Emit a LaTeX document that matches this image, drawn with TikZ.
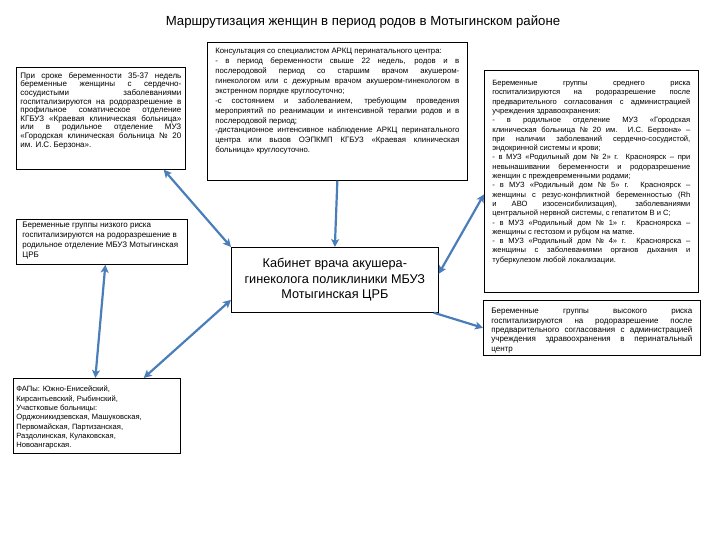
\documentclass[tikz,border=0pt]{standalone}
\usepackage{fontspec}
\setmainfont{Liberation Sans}
\usetikzlibrary{arrows.meta,calc}
\definecolor{ink}{HTML}{000000}
\definecolor{arrowblue}{HTML}{4A7EBB}
\hyphenpenalty=10000
\exhyphenpenalty=10000
\tolerance=10000
\tikzset{
  infobox/.style={
    draw=ink,
    line width=0.7pt,
    fill=white,
    anchor=north west,
    inner xsep=4pt,
    inner ysep=5pt,
    font=\fontsize{8}{9.3}\selectfont
  },
  centerbox/.style={
    infobox,
    align=center,
    inner sep=0pt,
    minimum width=207pt,
    minimum height=65pt,
    font=\fontsize{12.7}{15.5}\selectfont
  },
  title/.style={
    font=\fontsize{13.2}{15}\selectfont,
    text=ink
  },
  link/.style={
    draw=arrowblue,
    line width=2.2pt,
    -{Stealth[length=8pt,width=8pt,inset=2pt]}
  },
  twoway/.style={
    link,
    {Stealth[length=8pt,width=8pt,inset=2pt]}-{Stealth[length=8pt,width=8pt,inset=2pt]}
  }
}

\begin{document}
\begin{tikzpicture}[x=1pt,y=-1pt]
  \useasboundingbox (0,0) rectangle (720,540);

  % ============================================================
  % Title
  % ============================================================
  \node[title] (hdr) at (363,22)
    {Маршрутизация женщин в период родов в Мотыгинском районе};

  % ============================================================
  % Left column
  % ============================================================
  \node[infobox, font=\fontsize{8}{8.6}\selectfont] (cardio) at (16,67)
    {\parbox[t][92pt][t]{161pt}{При сроке беременности 35-37 недель\linebreak
     беременные женщины с сердечно-\linebreak
     сосудистыми заболеваниями\linebreak
     госпитализируются на родоразрешение в\linebreak
     профильное соматическое отделение\linebreak
     КГБУЗ «Краевая клиническая больница»\linebreak
     или в родильное отделение МУЗ\linebreak
     «Городская клиническая больница № 20\linebreak
     им. И.С. Берзона».}};

  \node[infobox, inner xsep=6pt, inner ysep=3pt,
        font=\fontsize{8}{10}\selectfont] (lowrisk) at (16,219)
    {\parbox[t][39pt][t]{159pt}{\raggedright
     Беременные группы низкого риска\\
     госпитализируются на родоразрешение в\\
     родильное отделение МБУЗ Мотыгинская\\
     ЦРБ}};

  \node[infobox, inner xsep=3pt, inner ysep=8pt,
        font=\fontsize{7.6}{9.3}\selectfont] (fap) at (13,378)
    {\parbox[t][59pt][t]{161pt}{\raggedright
     ФАПы: Южно-Енисейский,\\
     Кирсантьевский, Рыбинский,\\
     Участковые больницы:\\
     Орджоникидзевская, Машуковская,\\
     Первомайская, Партизанская,\\
     Раздолинская, Кулаковская,\\
     Новоангарская.}};

  % ============================================================
  % Centre column
  % ============================================================
  \node[infobox, inner xsep=8pt, inner ysep=6pt,
        font=\fontsize{7.8}{9.9}\selectfont] (consult) at (207,42)
    {\parbox[t][126pt][t]{244pt}{Консультация со специалистом АРКЦ перинатального центра:\par
     - в период беременности свыше 22 недель, родов и в\linebreak
     послеродовой период со старшим врачом акушером-\linebreak
     гинекологом или с дежурным врачом акушером-гинекологом в\linebreak
     экстренном порядке круглосуточно;\par
     -с состоянием и заболеванием, требующим проведения\linebreak
     мероприятий по реанимации и интенсивной терапии родов и в\linebreak
     послеродовой период;\par
     -дистанционное интенсивное наблюдение АРКЦ перинатального\linebreak
     центра или вызов ОЭПКМП КГБУЗ «Краевая клиническая\linebreak
     больница» круглосуточно.}};

  \node[centerbox] (cabinet) at (231,247)
    {Кабинет врача акушера-\\
     гинеколога поликлиники МБУЗ\\
     Мотыгинская ЦРБ};

  % ============================================================
  % Right column
  % ============================================================
  \node[infobox, inner xsep=8pt, inner ysep=10pt,
        font=\fontsize{7.6}{9.3}\selectfont] (midrisk) at (484,70)
    {\parbox[t][202pt][t]{198pt}{Беременные группы среднего риска\linebreak
     госпитализируются на родоразрешение после\linebreak
     предварительного согласования с администрацией\linebreak
     учреждения здравоохранения:\par
     - в родильное отделение МУЗ «Городская\linebreak
     клиническая больница № 20 им. И.С. Берзона» –\linebreak
     при наличии заболеваний сердечно-сосудистой,\linebreak
     эндокринной системы и крови;\par
     - в МУЗ «Родильный дом № 2» г. Красноярск – при\linebreak
     невынашивании беременности и родоразрешение\linebreak
     женщин с преждевременными родами;\par
     - в МУЗ «Родильный дом № 5» г. Красноярск –\linebreak
     женщины с резус-конфликтной беременностью (Rh\linebreak
     и АВО изосенсибилизация), заболеваниями\linebreak
     центральной нервной системы, с гепатитом В и С;\par
     - в МУЗ «Родильный дом № 1» г. Красноярска –\linebreak
     женщины с гестозом и рубцом на матке.\par
     - в МУЗ «Родильный дом № 4» г. Красноярска –\linebreak
     женщины с заболеваниями органов дыхания и\linebreak
     туберкулезом любой локализации.}};

  \node[infobox, inner xsep=8pt, inner ysep=8pt] (highrisk) at (483,300)
    {\parbox[t][39pt][t]{201pt}{Беременные группы высокого риска\linebreak
     госпитализируются на родоразрешение после\linebreak
     предварительного согласования с администрацией\linebreak
     учреждения здравоохранения в перинатальный\linebreak
     центр}};

  % ============================================================
  % Connectors
  % ============================================================
  \draw[twoway] ([xshift=-22pt]cardio.south east) -- (cabinet.north west);
  \draw[link] (consult.south) -- (cabinet.north);
  \draw[twoway] ([yshift=-13pt]midrisk.west) -- ([yshift=6pt]cabinet.east);
  \draw[link] ([xshift=-5pt]cabinet.south east) -- (highrisk.west);
  \draw[twoway] ([xshift=3.5pt]lowrisk.south) -- ([xshift=-1.5pt]fap.north);
  \draw[twoway] ([yshift=-20pt]cabinet.west) -- ([xshift=-37pt]fap.north east);

\end{tikzpicture}
\end{document}
